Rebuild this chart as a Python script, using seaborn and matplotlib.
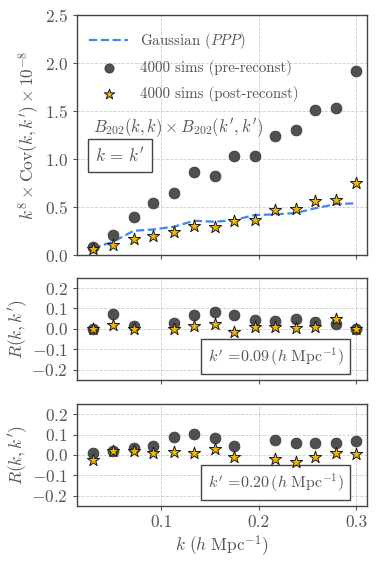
import numpy as np
import pandas as pd
import matplotlib
matplotlib.use("Agg")
import matplotlib.pyplot as plt
import seaborn as sns

# ---- data ----
k = [0.030, 0.051, 0.072, 0.092, 0.113, 0.134, 0.155, 0.175, 0.196, 0.217, 0.238, 0.258, 0.279, 0.300]
gauss_diag = [0.07, 0.14, 0.254, 0.268, 0.296, 0.359, 0.348, 0.366, 0.418, 0.425, 0.44, 0.488, 0.533, 0.54]
pre_diag = [0.087, 0.21, 0.40, 0.547, 0.65, 0.864, 0.826, 1.035, 1.038, 1.237, 1.307, 1.516, 1.537, 1.92]
post_diag = [0.06, 0.11, 0.164, 0.20, 0.237, 0.303, 0.29, 0.36, 0.366, 0.47, 0.477, 0.568, 0.575, 0.756]
nan = float("nan")
pre_r09 = [0.0, 0.073, 0.016, nan, 0.03, 0.07, 0.083, 0.067, 0.042, 0.04, 0.05, 0.032, 0.024, 0.0]
post_r09 = [-0.003, 0.021, 0.0, nan, -0.003, 0.016, 0.024, -0.015, 0.01, 0.01, 0.002, 0.01, 0.046, 0.0]
pre_r20 = [0.008, 0.021, 0.032, 0.044, 0.086, 0.102, 0.085, 0.044, nan, 0.073, 0.06, 0.057, 0.057, 0.068]
post_r20 = [-0.024, 0.021, 0.021, 0.008, 0.013, 0.011, 0.029, -0.008, nan, -0.021, -0.034, -0.011, 0.008, 0.005]
xticks = [0.1, 0.2, 0.3]

TXT = "#555555"
sns.set_style("ticks")
plt.rcParams.update({
    "font.family": "serif",
    "font.serif": ["cmr10", "DejaVu Serif"],
    "mathtext.fontset": "cm",
    "axes.formatter.use_mathtext": True,
    "text.color": TXT,
    "axes.labelcolor": TXT,
    "xtick.color": TXT,
    "ytick.color": TXT,
    "axes.edgecolor": "#444444",
    "axes.linewidth": 1.0,
})

fig = plt.figure(figsize=(3.78, 5.67), dpi=100)
left, width = 0.204, 0.767
ax1 = fig.add_axes([left, 0.550, width, 0.423])
ax2 = fig.add_axes([left, 0.330, width, 0.180])
ax3 = fig.add_axes([left, 0.1076, width, 0.180])

pre_kw = dict(color="#505050", edgecolor="#3a3a3a", s=60, marker="o", linewidth=0.6, zorder=3)
post_kw = dict(color="#f2b705", edgecolor="#1a1a1a", s=85, marker="*", linewidth=0.7, zorder=4)

d1 = pd.DataFrame({"k": k, "g": gauss_diag, "pre": pre_diag, "post": post_diag})
sns.lineplot(data=d1, x="k", y="g", ax=ax1, color="#3f86f0", linestyle="--", linewidth=1.6,
             label=r"Gaussian $(PPP)$", zorder=2)
sns.scatterplot(data=d1, x="k", y="pre", ax=ax1, label="4000 sims (pre-reconst)", **pre_kw)
sns.scatterplot(data=d1, x="k", y="post", ax=ax1, label="4000 sims (post-reconst)", **post_kw)
ax1.set_ylim(0, 2.5)
ax1.set_yticks([0.0, 0.5, 1.0, 1.5, 2.0, 2.5])
ax1.set_ylabel(r"$k^8 \times \mathrm{Cov}(k, k') \times 10^{-8}$", fontsize=12.5, labelpad=3)
leg = ax1.legend(loc="upper left", frameon=False, fontsize=10.8, handlelength=2.6,
                 borderaxespad=0.4, labelspacing=0.62, bbox_to_anchor=(0.0, 0.985),
                 markerscale=0.85)
for t in leg.get_texts():
    t.set_color(TXT)
ax1.text(0.055, 0.53, r"$B_{202}(k,k) \times B_{202}(k',k')$", transform=ax1.transAxes,
         fontsize=12, color=TXT, va="center", ha="left")
ax1.text(0.06, 0.415, r"$k\,=\,k'$", transform=ax1.transAxes, fontsize=12.5, color=TXT,
         va="center", ha="left",
         bbox=dict(boxstyle="square,pad=0.4", facecolor="white", edgecolor="#444444", linewidth=1.0))

for ax, pre, post, lab in [(ax2, pre_r09, post_r09, "0.09"), (ax3, pre_r20, post_r20, "0.20")]:
    d = pd.DataFrame({"k": k, "pre": pre, "post": post})
    sns.scatterplot(data=d, x="k", y="pre", ax=ax, legend=False, **pre_kw)
    sns.scatterplot(data=d, x="k", y="post", ax=ax, legend=False, **post_kw)
    ax.set_ylim(-0.25, 0.25)
    ax.set_yticks([-0.2, -0.1, 0.0, 0.1, 0.2])
    ax.set_ylabel(r"$R(k, k')$", fontsize=12.5, labelpad=1)
    ax.text(0.92, 0.12, r"$k'$ =" + lab + r"$\,(h\ \mathrm{Mpc}^{-1})$", transform=ax.transAxes,
            fontsize=11.5, color=TXT, va="bottom", ha="right",
            bbox=dict(boxstyle="square,pad=0.4", facecolor="white", edgecolor="#444444", linewidth=1.0))

for ax in (ax1, ax2, ax3):
    ax.set_xlim(0.014, 0.311)
    ax.set_xticks(xticks)
    ax.grid(True, linestyle="--", color="#cccccc", linewidth=0.6)
    ax.set_axisbelow(True)
    ax.tick_params(labelsize=12.5, length=3, width=0.8)
    for s in ax.spines.values():
        s.set_visible(True)

ax1.set_xlabel("")
ax2.set_xlabel("")
ax1.tick_params(labelbottom=False)
ax2.tick_params(labelbottom=False)
ax3.set_xticklabels(["0.1", "0.2", "0.3"])
ax3.set_xlabel(r"$k\ (h\ \mathrm{Mpc}^{-1})$", fontsize=12.5, labelpad=2)

fig.savefig("out.png", dpi=100)
